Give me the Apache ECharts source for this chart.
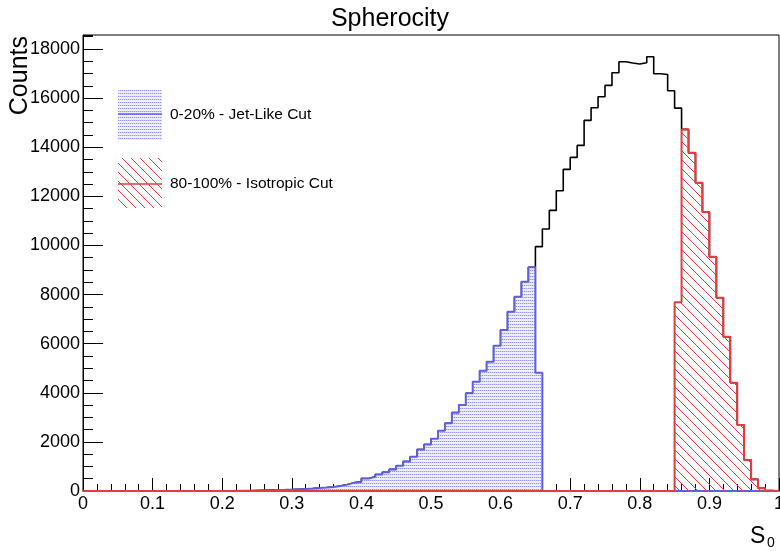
<!DOCTYPE html>
<html>
<head>
<meta charset="utf-8">
<script src="https://cdn.jsdelivr.net/npm/echarts@6/dist/echarts.min.js"></script>
<style>
html,body{margin:0;padding:0;background:#fff;}
#chart{width:780px;height:551px;}
</style>
</head>
<body>
<div id="chart"></div>
<script>
// ---- data (100 bins of width 0.01 on S0 in [0,1]) ----
const binWidth = 0.01;
const totalCounts = [
  0,0,0,0,0,0,0,0,0,0,
  0,0,0,0,0,0,0,0,0,0,
  2,4,8,12,20,28,34,40,46,55,
  70,85,100,118,140,165,205,260,340,370,
  505,575,670,760,880,1030,1200,1390,1690,1890,
  2130,2456,2755,3190,3500,3977,4452,4900,5266,5917,
  6555,7302,7912,8523,9107,9950,10668,11428,12228,13097,
  13586,14075,15092,15607,16056,16518,17033,17481,17427,17386,
  17440,17685,16990,16960,16300,15594,14725,13773,12552,11360,
  9540,7871,6283,4410,2687,1262,475,110,15,0
];
const jetCutLastBin = 65;      // 0-20% cut ends inside bin [0.65,0.66)
const jetCutPartial = 4820;
const isoCutFirstBin = 85;     // 80-100% cut starts inside bin [0.85,0.86)
const isoCutPartial = 7682;
const yMax = 18570;
const legendLabels = ['0-20% - Jet-Like Cut', '80-100% - Isotropic Cut'];

const jetCounts = totalCounts.map((v, i) => i < jetCutLastBin ? v : (i === jetCutLastBin ? jetCutPartial : 0));
const isoCounts = totalCounts.map((v, i) => i > isoCutFirstBin ? v : (i === isoCutFirstBin ? isoCutPartial : 0));

function stepData(counts) {
  const pts = counts.map((v, i) => [+(i * binWidth).toFixed(2), v]);
  pts.push([1, 0]);
  return pts;
}

// ---- fill patterns ----
function dotPattern() {
  const c = document.createElement('canvas');
  c.width = 2; c.height = 3;
  const g = c.getContext('2d');
  g.fillStyle = '#eeeefd'; g.fillRect(0, 0, 2, 3);
  g.fillStyle = '#9494f3'; g.fillRect(0, 0, 1, 1);
  g.fillStyle = '#cfcff8'; g.fillRect(1, 0, 1, 1);
  return c;
}
function hatchPattern() {
  const s = 9;
  const c = document.createElement('canvas');
  c.width = s; c.height = s;
  const g = c.getContext('2d');
  g.strokeStyle = '#ff3a3a'; g.lineWidth = 1;
  g.beginPath();
  g.moveTo(-1, -1); g.lineTo(s + 1, s + 1);
  g.moveTo(-1, s - 1); g.lineTo(1, s + 1);
  g.moveTo(s - 1, -1); g.lineTo(s + 1, 1);
  g.stroke();
  return c;
}
const dotFill = { image: dotPattern(), repeat: 'repeat' };
const hatchFill = { image: hatchPattern(), repeat: 'repeat' };

const blueLine = '#5f5fe4';
const redLine = '#e23c3c';
const FONT = 'Liberation Sans, Arial, sans-serif';

const chart = echarts.init(document.getElementById('chart'), null, { renderer: 'canvas' });
chart.setOption({
  animation: false,
  backgroundColor: '#fff',
  title: {
    text: 'Spherocity', left: 'center', top: 2,
    textStyle: { fontFamily: FONT, fontSize: 25, fontWeight: 'normal', color: '#000' }
  },
  grid: { left: 83, right: 1, top: 35, bottom: 60, show: true, borderColor: '#000', borderWidth: 1,
    containLabel: false, outerBoundsMode: 'none' },
  xAxis: {
    type: 'value', min: 0, max: 1, interval: 0.1,
    axisLine: { show: true, lineStyle: { color: '#000', width: 1 } },
    axisTick: { show: true, inside: true, length: 13, lineStyle: { color: '#000' } },
    minorTick: { show: true, splitNumber: 5, length: 7, lineStyle: { color: '#000' } },
    splitLine: { show: false },
    axisLabel: { margin: 4, fontFamily: FONT, fontSize: 18, color: '#000', hideOverlap: false,
      formatter: v => String(+v.toFixed(1)) }
  },
  yAxis: [{
    type: 'value', min: 0, max: yMax, interval: 2000,
    axisLine: { show: true, lineStyle: { color: '#000', width: 1 } },
    axisTick: { show: true, inside: true, length: 20, lineStyle: { color: '#000' } },
    splitLine: { show: false },
    axisLabel: { margin: 3, fontFamily: FONT, fontSize: 18, color: '#000', showMaxLabel: false,
      formatter: v => (v % 2000 === 0 ? String(v) : '') }
  }, {
    type: 'value', min: 0, max: yMax, interval: 500, position: 'left',
    axisLine: { show: false },
    axisTick: { show: true, inside: true, length: 10, lineStyle: { color: '#000' } },
    splitLine: { show: false },
    axisLabel: { show: false }
  }],
  series: [{
    name: 'All', type: 'line', step: 'end', data: stepData(totalCounts),
    showSymbol: false, symbol: 'none', lineStyle: { color: '#000', width: 1.6 }, z: 2
  }, {
    name: legendLabels[0], type: 'line', step: 'end', data: stepData(jetCounts),
    showSymbol: false, symbol: 'none', lineStyle: { color: blueLine, width: 2 },
    areaStyle: { color: dotFill, opacity: 1 }, z: 3
  }, {
    name: legendLabels[1], type: 'line', step: 'end', data: stepData(isoCounts),
    showSymbol: false, symbol: 'none', lineStyle: { color: redLine, width: 2 },
    areaStyle: { color: hatchFill, opacity: 1 }, z: 4
  }],
  graphic: [
    { type: 'rect', shape: { x: 118, y: 90, width: 44, height: 50 }, style: { fill: dotFill }, z: 10 },
    { type: 'line', shape: { x1: 118, y1: 114, x2: 162, y2: 114 }, style: { stroke: blueLine, lineWidth: 1.5 }, z: 11 },
    { type: 'text', x: 170, y: 115, style: { text: legendLabels[0], font: '15.5px ' + FONT, fill: '#000', verticalAlign: 'middle', align: 'left' }, z: 11 },
    { type: 'rect', shape: { x: 118, y: 158, width: 44, height: 50 }, style: { fill: hatchFill }, z: 10 },
    { type: 'line', shape: { x1: 118, y1: 184, x2: 162, y2: 184 }, style: { stroke: redLine, lineWidth: 1.5 }, z: 11 },
    { type: 'text', x: 170, y: 184, style: { text: legendLabels[1], font: '15.5px ' + FONT, fill: '#000', verticalAlign: 'middle', align: 'left' }, z: 11 },
    { type: 'text', x: 20, y: 36, rotation: Math.PI / 2, style: { text: 'Counts', font: '25px ' + FONT, fill: '#000', align: 'right', verticalAlign: 'middle' }, z: 11 },
    { type: 'text', x: 750, y: 537, style: { text: 'S', font: '23px ' + FONT, fill: '#000', align: 'left', verticalAlign: 'middle' }, z: 11 },
    { type: 'text', x: 767, y: 543, style: { text: '0', font: '14px ' + FONT, fill: '#000', align: 'left', verticalAlign: 'middle' }, z: 11 }
  ]
});
</script>
</body>
</html>
